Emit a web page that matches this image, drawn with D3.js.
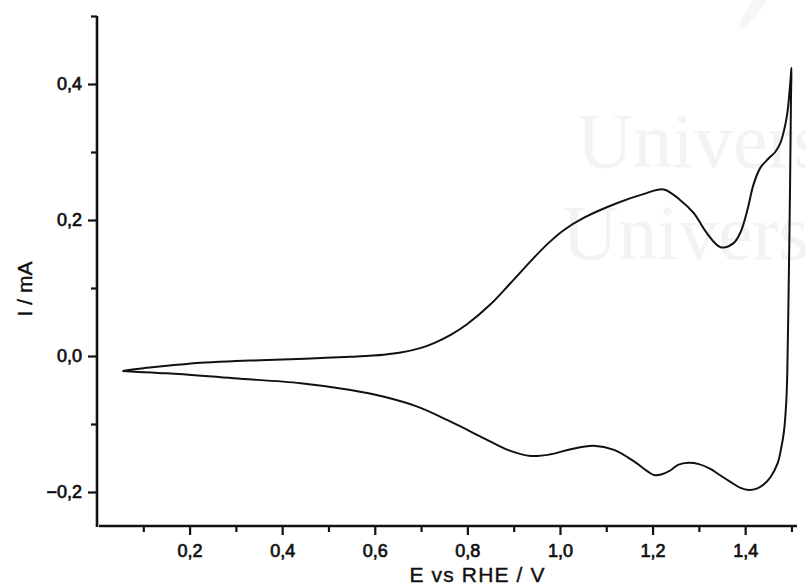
<!DOCTYPE html>
<html>
<head>
<meta charset="utf-8">
<script src="https://cdn.jsdelivr.net/npm/d3@7/dist/d3.min.js"></script>
<style>
  html, body { margin: 0; padding: 0; background: #fff; }
  svg { display: block; }
  .tick-label { font-family: "Liberation Sans", Arial, sans-serif; font-size: 18px; fill: #111; stroke: #111; stroke-width: 0.7px; }
  .axis-title { font-family: "Liberation Sans", Arial, sans-serif; font-size: 21px; fill: #111; stroke: #111; stroke-width: 0.4px; }
</style>
</head>
<body>
<script>
// Cyclic voltammogram: anodic (forward) sweep, potential in V vs RHE, current in mA
const forwardE = [0.055, 0.10, 0.152, 0.224, 0.30, 0.368, 0.45, 0.548, 0.62, 0.656, 0.70, 0.728, 0.764, 0.80, 0.85, 0.893, 0.943, 0.975, 1.008, 1.051, 1.124, 1.18, 1.224, 1.26, 1.289, 1.318, 1.347, 1.375, 1.39, 1.405, 1.418, 1.433, 1.45, 1.465, 1.476, 1.487, 1.492, 1.498, 1.500];
const forwardI = [-0.022, -0.018, -0.0145, -0.0098, -0.0075, -0.0059, -0.004, -0.001, 0.002, 0.005, 0.012, 0.019, 0.031, 0.047, 0.076, 0.107, 0.144, 0.166, 0.185, 0.203, 0.225, 0.238, 0.245, 0.229, 0.210, 0.180, 0.160, 0.166, 0.182, 0.215, 0.252, 0.277, 0.290, 0.300, 0.313, 0.341, 0.362, 0.406, 0.424];

// Cathodic (reverse) sweep back to the starting potential
const reverseE = [1.500, 1.499, 1.497, 1.494, 1.491, 1.489, 1.484, 1.478, 1.47, 1.455, 1.44, 1.425, 1.408, 1.39, 1.368, 1.345, 1.325, 1.30, 1.278, 1.255, 1.239, 1.22, 1.203, 1.19, 1.16, 1.117, 1.073, 1.023, 0.98, 0.937, 0.887, 0.836, 0.764, 0.692, 0.62, 0.548, 0.44, 0.295, 0.152, 0.08, 0.055];
const reverseI = [0.424, 0.38, 0.25, 0.10, -0.025, -0.065, -0.11, -0.135, -0.158, -0.178, -0.189, -0.195, -0.197, -0.194, -0.185, -0.175, -0.166, -0.159, -0.157, -0.160, -0.168, -0.174, -0.175, -0.170, -0.155, -0.138, -0.132, -0.137, -0.1446, -0.147, -0.138, -0.121, -0.0966, -0.0745, -0.060, -0.050, -0.040, -0.0328, -0.0255, -0.023, -0.022];

const xMajorTicks = [0.2, 0.4, 0.6, 0.8, 1.0, 1.2, 1.4];
const xMinorTicks = [0.1, 0.3, 0.5, 0.7, 0.9, 1.1, 1.3, 1.5];
const yMajorTicks = [-0.2, 0.0, 0.2, 0.4];
const yMinorTicks = [-0.1, 0.1, 0.3, 0.5];

const xTitle = "E vs RHE / V";
const yTitle = "I / mA";
const watermarkLines = ["Universi", "Universida"];

const W = 806, H = 585;
const svg = d3.select("body").append("svg").attr("width", W).attr("height", H);

const x = d3.scaleLinear().domain([0, 1.512]).range([97, 797]);
const y = d3.scaleLinear().domain([-0.25, 0.5]).range([526, 16]);

// faint institutional watermark behind the plot
const wm = svg.append("g").attr("fill", "#f3f3f3")
  .style("font-family", "'Liberation Serif', 'Times New Roman', serif")
  .style("font-size", "78px");
wm.append("text").attr("x", 577).attr("y", 167).text(watermarkLines[0]);
wm.append("text").attr("x", 562).attr("y", 259).text(watermarkLines[1]);
svg.append("path")
  .attr("d", "M752,0 L768,0 L744,30 L738,26 Z")
  .attr("fill", "#f6f6f6");

const fmt = d => d3.format(".1f")(d).replace(".", ",").replace("-0,0", "0,0");

// axes
const xAxis = d3.axisBottom(x).tickValues(xMajorTicks).tickSize(9).tickPadding(9).tickFormat(fmt);
const xMinor = d3.axisBottom(x).tickValues(xMinorTicks).tickSize(6).tickFormat("");
const yAxis = d3.axisLeft(y).tickValues(yMajorTicks).tickSize(9).tickPadding(6).tickFormat(fmt);
const yMinor = d3.axisLeft(y).tickValues(yMinorTicks).tickSize(6).tickFormat("");

function styleAxis(g) {
  g.select(".domain").remove();
  g.selectAll(".tick line").attr("stroke", "#111").attr("stroke-width", 2.2);
  g.selectAll(".tick text").attr("class", "tick-label").attr("font-family", null).attr("font-size", null);
}

const gx = svg.append("g").attr("transform", `translate(0,${y(-0.25)})`);
gx.call(xAxis).call(styleAxis);
svg.append("g").attr("transform", `translate(0,${y(-0.25)})`).call(xMinor).call(styleAxis);

const gy = svg.append("g").attr("transform", `translate(${x(0)},0)`);
gy.call(yAxis).call(styleAxis);
svg.append("g").attr("transform", `translate(${x(0)},0)`).call(yMinor).call(styleAxis);

// axis lines
svg.append("line").attr("x1", x(0)).attr("x2", x(0)).attr("y1", y(0.5)).attr("y2", y(-0.25) + 1)
  .attr("stroke", "#111").attr("stroke-width", 2.6);
svg.append("line").attr("x1", x(0) + 2).attr("x2", x(1.512)).attr("y1", y(-0.25)).attr("y2", y(-0.25))
  .attr("stroke", "#111").attr("stroke-width", 2.6);

// axis titles
svg.append("text").attr("class", "axis-title")
  .attr("x", 477).attr("y", 582).attr("text-anchor", "middle")
  .attr("textLength", 135).attr("lengthAdjust", "spacing")
  .text(xTitle);
svg.append("text").attr("class", "axis-title")
  .attr("transform", "translate(32,289) rotate(-90)").attr("text-anchor", "middle")
  .text(yTitle);

// voltammogram trace
const pts = forwardE.map((e, i) => [e, forwardI[i]])
  .concat(reverseE.slice(1).map((e, i) => [e, reverseI[i + 1]]));
const line = d3.line()
  .x(d => x(d[0])).y(d => y(d[1]))
  .curve(d3.curveCatmullRom.alpha(0.5));
svg.append("path").datum(pts)
  .attr("d", line)
  .attr("fill", "none").attr("stroke", "#111").attr("stroke-width", 2)
  .attr("stroke-linejoin", "round");
</script>
</body>
</html>
